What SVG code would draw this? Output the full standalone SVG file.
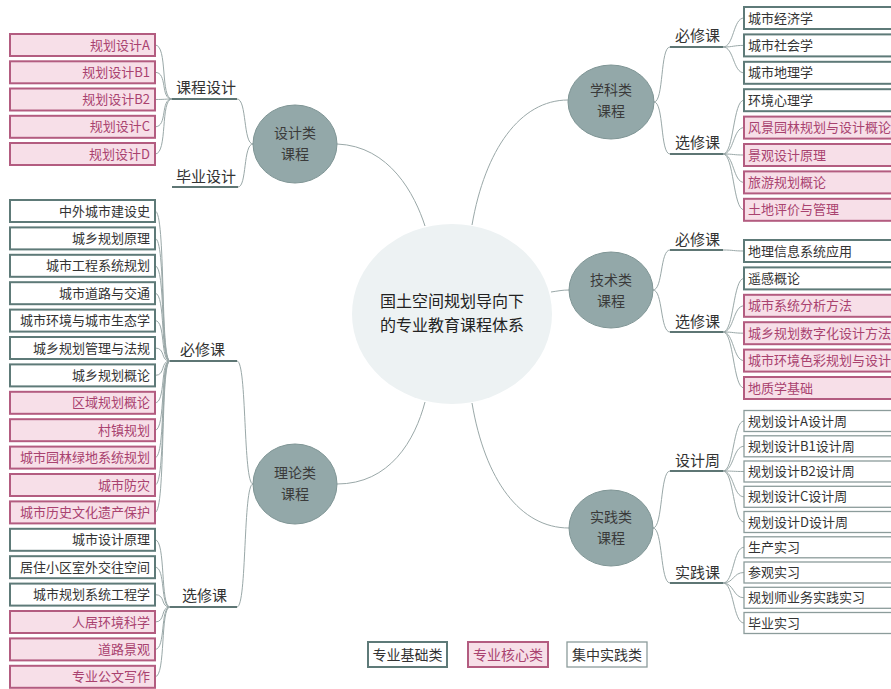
<svg xmlns="http://www.w3.org/2000/svg" width="891" height="689" viewBox="0 0 891 689">
<style>
text{font-family:"Noto Sans CJK SC","Liberation Sans",sans-serif;}
.b{fill:#fff;stroke:#5e7a78;stroke-width:2;}
.c{fill:#f7dfe8;stroke:#b35c80;stroke-width:2;}
.p{fill:#fff;stroke:#8c9c9b;stroke-width:1.3;}
.bt{font-size:13px;fill:#333;}
.ct{font-size:13px;fill:#a9426f;}
.l{text-anchor:end;}
.lab{font-size:15px;fill:#333;}
.cir{fill:#93a8a9;stroke:#7f9595;stroke-width:1;}
.cirt{font-size:14px;fill:#3a3a3a;text-anchor:middle;}
.con{fill:none;stroke:#9aa8a8;stroke-width:1;}
.ul{fill:none;stroke:#5e7674;stroke-width:2;}
</style>
<g id="connectors">
<path class="con" d="M337,144 C390,146 415,195 425,226"/>
<path class="con" d="M337,484 C390,484 415,440 425,402"/>
<path class="con" d="M472,225 C485,150 520,100 568,100"/>
<path class="con" d="M551,292 C558,291 562,290 569,290"/>
<path class="con" d="M472,403 C485,480 520,528 569,528"/>
<path class="con" d="M253,144 C243,144 247,99 237,99"/>
<path class="con" d="M253,144 C243,144 247,187 238,187"/>
<path class="ul" d="M172,99 H237"/>
<path class="ul" d="M172,187 H238"/>
<path class="con" d="M155,45 C168,45 160,99 172,99"/>
<path class="con" d="M155,72.3 C168,72.3 160,99 172,99"/>
<path class="con" d="M155,99.5 C165,99.5 165,99 172,99"/>
<path class="con" d="M155,126.8 C168,126.8 160,99 172,99"/>
<path class="con" d="M155,154 C168,154 160,99 172,99"/>
<path class="con" d="M253,484 C243,484 247,361 237,361"/>
<path class="con" d="M253,484 C243,484 247,607 237,607"/>
<path class="ul" d="M170,361 H237"/>
<path class="ul" d="M170,607 H237"/>
<path class="con" d="M155,211 C166,211 160,361 170,361"/>
<path class="con" d="M155,238.4 C166,238.4 160,361 170,361"/>
<path class="con" d="M155,265.8 C166,265.8 160,361 170,361"/>
<path class="con" d="M155,293.2 C166,293.2 160,361 170,361"/>
<path class="con" d="M155,320.6 C166,320.6 160,361 170,361"/>
<path class="con" d="M155,348 C166,348 160,361 170,361"/>
<path class="con" d="M155,375.4 C166,375.4 160,361 170,361"/>
<path class="con" d="M155,402.8 C166,402.8 160,361 170,361"/>
<path class="con" d="M155,430.2 C166,430.2 160,361 170,361"/>
<path class="con" d="M155,457.6 C166,457.6 160,361 170,361"/>
<path class="con" d="M155,485 C166,485 160,361 170,361"/>
<path class="con" d="M155,512.4 C166,512.4 160,361 170,361"/>
<path class="con" d="M155,539.8 C166,539.8 160,607 170,607"/>
<path class="con" d="M155,567.2 C166,567.2 160,607 170,607"/>
<path class="con" d="M155,594.6 C166,594.6 160,607 170,607"/>
<path class="con" d="M155,622 C166,622 160,607 170,607"/>
<path class="con" d="M155,649.4 C166,649.4 160,607 170,607"/>
<path class="con" d="M155,676.8 C166,676.8 160,607 170,607"/>
<path class="con" d="M654,102 C664,102 660,47 670,47"/>
<path class="con" d="M654,102 C664,102 660,154 670,154"/>
<path class="ul" d="M670,47 H723"/>
<path class="ul" d="M670,154 H723"/>
<path class="con" d="M723,47 C734,47 733,18 744,18"/>
<path class="con" d="M723,47 C734,47 733,45.4 744,45.4"/>
<path class="con" d="M723,47 C734,47 733,72.8 744,72.8"/>
<path class="con" d="M723,154 C734,154 733,100.2 744,100.2"/>
<path class="con" d="M723,154 C734,154 733,127.6 744,127.6"/>
<path class="con" d="M723,154 C734,154 733,155 744,155"/>
<path class="con" d="M723,154 C734,154 733,182.4 744,182.4"/>
<path class="con" d="M723,154 C734,154 733,209.8 744,209.8"/>
<path class="con" d="M653,290 C663,290 660,250 670,250"/>
<path class="con" d="M653,290 C663,290 660,332 670,332"/>
<path class="ul" d="M670,250 H723"/>
<path class="ul" d="M670,332 H723"/>
<path class="con" d="M723,250 C734,250 733,251 744,251"/>
<path class="con" d="M723,332 C734,332 733,278.4 744,278.4"/>
<path class="con" d="M723,332 C734,332 733,305.8 744,305.8"/>
<path class="con" d="M723,332 C734,332 733,333.2 744,333.2"/>
<path class="con" d="M723,332 C734,332 733,360.6 744,360.6"/>
<path class="con" d="M723,332 C734,332 733,388 744,388"/>
<path class="con" d="M653,528 C663,528 660,471 670,471"/>
<path class="con" d="M653,528 C663,528 660,583 670,583"/>
<path class="ul" d="M670,471 H723"/>
<path class="ul" d="M670,583 H723"/>
<path class="con" d="M723,471 C734,471 733,421 744,421"/>
<path class="con" d="M723,471 C734,471 733,446.3 744,446.3"/>
<path class="con" d="M723,471 C734,471 733,471.5 744,471.5"/>
<path class="con" d="M723,471 C734,471 733,496.8 744,496.8"/>
<path class="con" d="M723,471 C734,471 733,522 744,522"/>
<path class="con" d="M723,583 C734,583 733,547.3 744,547.3"/>
<path class="con" d="M723,583 C734,583 733,572.5 744,572.5"/>
<path class="con" d="M723,583 C734,583 733,597.8 744,597.8"/>
<path class="con" d="M723,583 C734,583 733,623 744,623"/>
</g>
<g id="center">
<ellipse cx="452" cy="314" rx="100" ry="90" fill="#edf2f3"/>
<text x="452" y="307" font-size="16" fill="#222" text-anchor="middle">国土空间规划导向下</text>
<text x="452" y="331" font-size="16" fill="#222" text-anchor="middle">的专业教育课程体系</text>
</g>
<g id="design">
<ellipse class="cir" cx="295" cy="144" rx="42" ry="39"/>
<text class="cirt" x="295" y="138">设计类</text>
<text class="cirt" x="295" y="159">课程</text>
<text class="lab" x="176" y="93">课程设计</text>
<text class="lab" x="176" y="182">毕业设计</text>
</g>
<g id="design-items">
<rect class="c" x="10" y="34" width="145" height="22"/><text class="ct l" x="150" y="49.5">规划设计A</text>
<rect class="c" x="10" y="61.3" width="145" height="22"/><text class="ct l" x="150" y="76.8">规划设计B1</text>
<rect class="c" x="10" y="88.5" width="145" height="22"/><text class="ct l" x="150" y="104">规划设计B2</text>
<rect class="c" x="10" y="115.8" width="145" height="22"/><text class="ct l" x="150" y="131.3">规划设计C</text>
<rect class="c" x="10" y="143" width="145" height="22"/><text class="ct l" x="150" y="158.5">规划设计D</text>
</g>
<g id="theory">
<ellipse class="cir" cx="295" cy="484" rx="42" ry="40"/>
<text class="cirt" x="295" y="478">理论类</text>
<text class="cirt" x="295" y="499">课程</text>
<text class="lab" x="180" y="355">必修课</text>
<text class="lab" x="182" y="601">选修课</text>
</g>
<g id="theory-items">
<rect class="b" x="10" y="200" width="145" height="22"/><text class="bt l" x="150" y="215.5">中外城市建设史</text>
<rect class="b" x="10" y="227.4" width="145" height="22"/><text class="bt l" x="150" y="242.9">城乡规划原理</text>
<rect class="b" x="10" y="254.8" width="145" height="22"/><text class="bt l" x="150" y="270.3">城市工程系统规划</text>
<rect class="b" x="10" y="282.2" width="145" height="22"/><text class="bt l" x="150" y="297.7">城市道路与交通</text>
<rect class="b" x="10" y="309.6" width="145" height="22"/><text class="bt l" x="150" y="325.1">城市环境与城市生态学</text>
<rect class="b" x="10" y="337" width="145" height="22"/><text class="bt l" x="150" y="352.5">城乡规划管理与法规</text>
<rect class="b" x="10" y="364.4" width="145" height="22"/><text class="bt l" x="150" y="379.9">城乡规划概论</text>
<rect class="c" x="10" y="391.8" width="145" height="22"/><text class="ct l" x="150" y="407.3">区域规划概论</text>
<rect class="c" x="10" y="419.2" width="145" height="22"/><text class="ct l" x="150" y="434.7">村镇规划</text>
<rect class="c" x="10" y="446.6" width="145" height="22"/><text class="ct l" x="150" y="462.1">城市园林绿地系统规划</text>
<rect class="c" x="10" y="474" width="145" height="22"/><text class="ct l" x="150" y="489.5">城市防灾</text>
<rect class="c" x="10" y="501.4" width="145" height="22"/><text class="ct l" x="150" y="516.9">城市历史文化遗产保护</text>
<rect class="b" x="10" y="528.8" width="145" height="22"/><text class="bt l" x="150" y="544.3">城市设计原理</text>
<rect class="b" x="10" y="556.2" width="145" height="22"/><text class="bt l" x="150" y="571.7">居住小区室外交往空间</text>
<rect class="b" x="10" y="583.6" width="145" height="22"/><text class="bt l" x="150" y="599.1">城市规划系统工程学</text>
<rect class="c" x="10" y="611" width="145" height="22"/><text class="ct l" x="150" y="626.5">人居环境科学</text>
<rect class="c" x="10" y="638.4" width="145" height="22"/><text class="ct l" x="150" y="653.9">道路景观</text>
<rect class="c" x="10" y="665.8" width="145" height="22"/><text class="ct l" x="150" y="681.3">专业公文写作</text>
</g>
<g id="subject">
<ellipse class="cir" cx="611" cy="102" rx="43" ry="37"/>
<text class="cirt" x="611" y="95">学科类</text>
<text class="cirt" x="611" y="116">课程</text>
<text class="lab" x="675" y="41">必修课</text>
<text class="lab" x="675" y="148">选修课</text>
</g>
<g id="subject-items">
<rect class="b" x="744" y="7" width="160" height="22"/><text class="bt" x="748" y="22.5">城市经济学</text>
<rect class="b" x="744" y="34.4" width="160" height="22"/><text class="bt" x="748" y="49.9">城市社会学</text>
<rect class="b" x="744" y="61.8" width="160" height="22"/><text class="bt" x="748" y="77.3">城市地理学</text>
<rect class="b" x="744" y="89.2" width="160" height="22"/><text class="bt" x="748" y="104.7">环境心理学</text>
<rect class="c" x="744" y="116.6" width="160" height="22"/><text class="ct" x="748" y="132.1">风景园林规划与设计概论</text>
<rect class="c" x="744" y="144" width="160" height="22"/><text class="ct" x="748" y="159.5">景观设计原理</text>
<rect class="c" x="744" y="171.4" width="160" height="22"/><text class="ct" x="748" y="186.9">旅游规划概论</text>
<rect class="c" x="744" y="198.8" width="160" height="22"/><text class="ct" x="748" y="214.3">土地评价与管理</text>
</g>
<g id="tech">
<ellipse class="cir" cx="611" cy="290" rx="42" ry="38"/>
<text class="cirt" x="611" y="285">技术类</text>
<text class="cirt" x="611" y="306">课程</text>
<text class="lab" x="675" y="245">必修课</text>
<text class="lab" x="675" y="327">选修课</text>
</g>
<g id="tech-items">
<rect class="b" x="744" y="240" width="160" height="22"/><text class="bt" x="748" y="255.5">地理信息系统应用</text>
<rect class="b" x="744" y="267.4" width="160" height="22"/><text class="bt" x="748" y="282.9">遥感概论</text>
<rect class="c" x="744" y="294.8" width="160" height="22"/><text class="ct" x="748" y="310.3">城市系统分析方法</text>
<rect class="c" x="744" y="322.2" width="160" height="22"/><text class="ct" x="748" y="337.7">城乡规划数字化设计方法</text>
<rect class="c" x="744" y="349.6" width="160" height="22"/><text class="ct" x="748" y="365.1">城市环境色彩规划与设计</text>
<rect class="c" x="744" y="377" width="160" height="22"/><text class="ct" x="748" y="392.5">地质学基础</text>
</g>
<g id="practice">
<ellipse class="cir" cx="611" cy="528" rx="42" ry="38"/>
<text class="cirt" x="611" y="522">实践类</text>
<text class="cirt" x="611" y="543">课程</text>
<text class="lab" x="675" y="466">设计周</text>
<text class="lab" x="675" y="578">实践课</text>
</g>
<g id="practice-items">
<rect class="p" x="744" y="410.5" width="160" height="21"/><text class="bt" x="748" y="425.5">规划设计A设计周</text>
<rect class="p" x="744" y="435.8" width="160" height="21"/><text class="bt" x="748" y="450.8">规划设计B1设计周</text>
<rect class="p" x="744" y="461" width="160" height="21"/><text class="bt" x="748" y="476">规划设计B2设计周</text>
<rect class="p" x="744" y="486.3" width="160" height="21"/><text class="bt" x="748" y="501.3">规划设计C设计周</text>
<rect class="p" x="744" y="511.5" width="160" height="21"/><text class="bt" x="748" y="526.5">规划设计D设计周</text>
<rect class="p" x="744" y="536.8" width="160" height="21"/><text class="bt" x="748" y="551.8">生产实习</text>
<rect class="p" x="744" y="562" width="160" height="21"/><text class="bt" x="748" y="577">参观实习</text>
<rect class="p" x="744" y="587.3" width="160" height="21"/><text class="bt" x="748" y="602.3">规划师业务实践实习</text>
<rect class="p" x="744" y="612.5" width="160" height="21"/><text class="bt" x="748" y="627.5">毕业实习</text>
</g>
<g id="legend">
<rect class="b" x="368" y="642" width="79" height="25"/><text x="407.5" y="659.5" font-size="14" fill="#333" text-anchor="middle">专业基础类</text>
<rect class="c" x="468" y="642" width="80" height="25"/><text x="508" y="659.5" font-size="14" fill="#a9426f" text-anchor="middle">专业核心类</text>
<rect class="p" x="567" y="642" width="80" height="25"/><text x="607" y="659.5" font-size="14" fill="#333" text-anchor="middle">集中实践类</text>
</g>
</svg>
